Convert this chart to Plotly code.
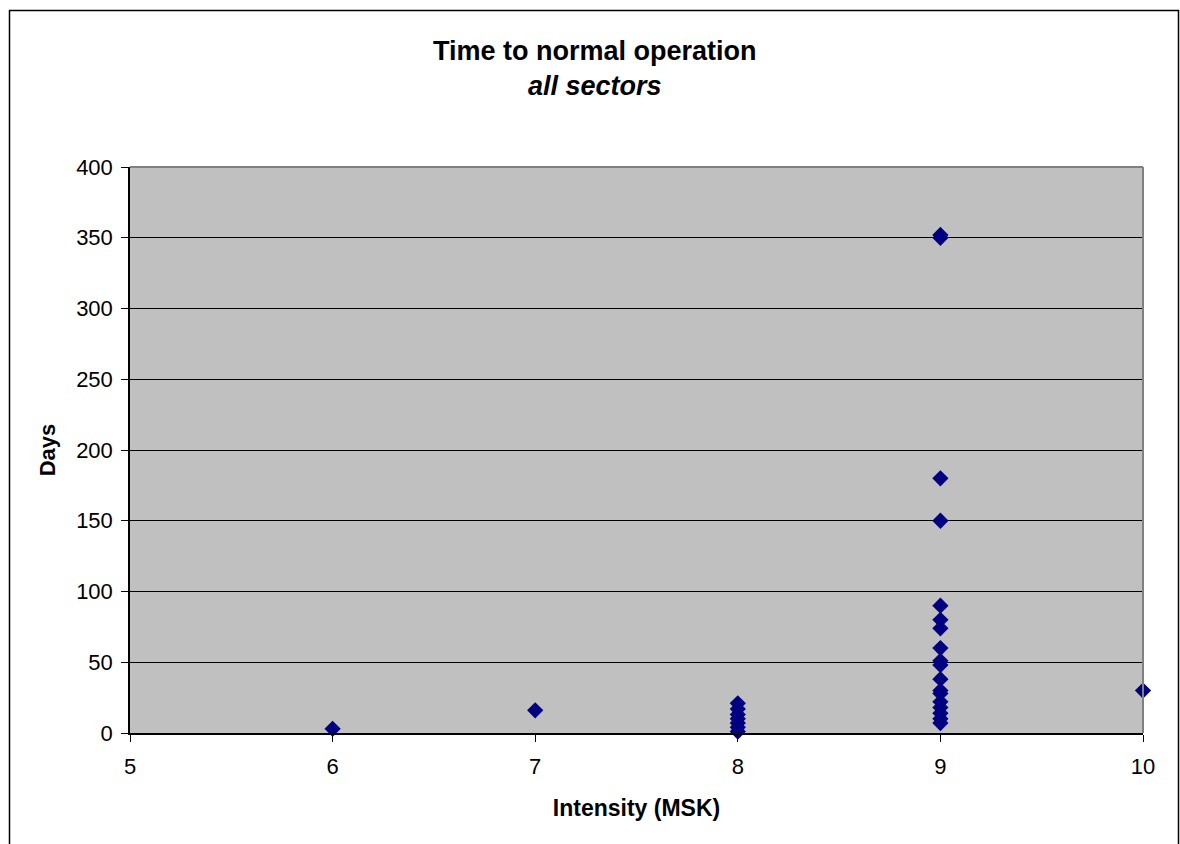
import plotly.graph_objects as go

intensity = [6, 7,
             8, 8, 8, 8, 8, 8, 8,
             9, 9, 9, 9, 9, 9, 9, 9, 9, 9, 9, 9, 9, 9, 9, 9, 9, 9,
             10]
days = [3, 16,
        21, 17, 13, 10, 7, 4, 1,
        352, 350, 180, 150, 90, 80, 74, 60, 51, 48, 38, 30, 22, 18, 14, 10, 7, 28,
        30]

x_ticks = [5, 6, 7, 8, 9, 10]
y_ticks = [0, 50, 100, 150, 200, 250, 300, 350, 400]

W, H = 1180, 844
ML, MR, MT, MB = 130, 37, 167, 111
pw, ph = W - ML - MR, H - MT - MB

fig = go.Figure()
fig.add_trace(go.Scatter(
    x=intensity, y=days, mode="markers",
    marker=dict(symbol="diamond", size=12.5, color="#000080",
                line=dict(width=0)),
    showlegend=False, cliponaxis=False,
))

font = "Liberation Sans, Arial, sans-serif"
fig.update_layout(
    width=W, height=H,
    margin=dict(l=ML, r=MR, t=MT, b=MB),
    paper_bgcolor="white",
    plot_bgcolor="#C0C0C0",
    font=dict(family=font, color="black", size=22),
    xaxis=dict(
        range=[5, 10], tickvals=x_ticks, showgrid=False, zeroline=False,
        showline=True, linecolor="black", linewidth=1.5,
        ticks="outside", ticklen=7, tickcolor="black", tickwidth=1,
        tickfont=dict(size=22), ticklabelstandoff=6,
        title=dict(text="<b>Intensity (MSK)</b>", font=dict(size=23), standoff=22),
    ),
    yaxis=dict(
        range=[0, 400], tickvals=y_ticks, showgrid=True, gridcolor="black",
        gridwidth=1, zeroline=False,
        showline=True, linecolor="black", linewidth=1.5,
        ticks="outside", ticklen=7, tickcolor="black", tickwidth=1,
        tickfont=dict(size=22), ticklabelstandoff=4,
        title=dict(text="<b>Days</b>", font=dict(size=22), standoff=14),
    ),
    annotations=[
        dict(text="<b>Time to normal operation</b><br><b><i>all sectors</i></b>",
             xref="paper", yref="paper", x=(595 - ML) / pw, xanchor="center",
             y=1 + (MT - 68) / ph, yanchor="middle", showarrow=False,
             font=dict(size=27, family=font, color="black"), align="center"),
    ],
    shapes=[
        dict(type="line", xref="paper", yref="paper", x0=0, x1=1, y0=1, y1=1,
             line=dict(color="#808080", width=2)),
        dict(type="line", xref="paper", yref="paper", x0=1, x1=1, y0=0, y1=1,
             line=dict(color="#808080", width=2)),
        dict(type="rect", xref="paper", yref="paper",
             x0=(9.5 - ML) / pw, x1=(1178.5 - ML) / pw,
             y0=(H - MB - 860) / ph, y1=(H - MB - 10.5) / ph,
             line=dict(color="black", width=1.5), layer="below"),
    ],
)

fig.write_html("out.html")
